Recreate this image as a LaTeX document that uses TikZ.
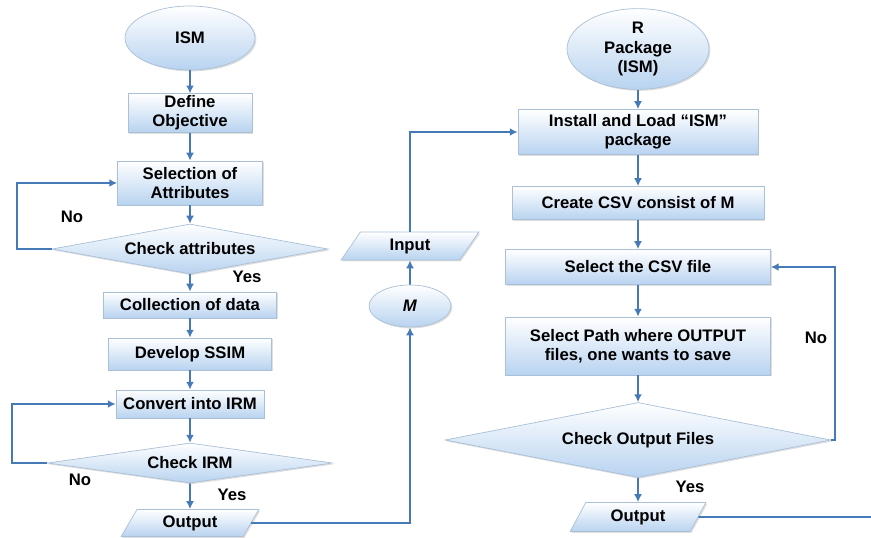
\documentclass[tikz,border=0pt]{standalone}
\usepackage{fontspec}
\setmainfont{Liberation Sans}
\usetikzlibrary{shapes.geometric,arrows.meta,shadows}
\definecolor{flowline}{RGB}{70,122,182}
\definecolor{boxfill}{RGB}{184,211,240}
\definecolor{boxedge}{RGB}{170,192,214}
\tikzset{
  base/.style={draw=boxedge, line width=0.4pt, top color=white, bottom color=boxfill,
    font=\bfseries\fontsize{9.5}{11}\selectfont, align=center, inner sep=1pt,
    drop shadow={shadow xshift=0.8pt, shadow yshift=-0.8pt, opacity=0.25}},
  proc/.style={base, rectangle},
  term/.style={base, ellipse},
  decide/.style={base, diamond, aspect=5},
  inout/.style={base, trapezium, trapezium left angle=65, trapezium right angle=115, trapezium stretches=true},
  flow/.style={draw=flowline, line width=1.1pt, -{Latex[length=4.5pt,width=4.5pt]}},
  tag/.style={font=\bfseries\fontsize{9.5}{11}\selectfont}
}
\begin{document}
\begin{tikzpicture}[x=0.02cm, y=-0.02cm]
            \useasboundingbox (0,0) rectangle (871,537);

            % ISM column
            \node[term, minimum width=2.6cm, minimum height=1.28cm] (ism) at (190,38) {ISM};
            \node[proc, minimum width=2.48cm, minimum height=0.76cm] (obj) at (190,113) {Define\\Objective};
            \node[proc, minimum width=2.9cm, minimum height=0.88cm] (attr) at (190,183) {Selection of\\Attributes};
            \node[decide, minimum width=5.52cm, minimum height=1.0cm] (chkattr) at (190,249) {Check attributes};
            \node[proc, minimum width=3.46cm, minimum height=0.52cm] (data) at (190,305) {Collection of data};
            \node[proc, minimum width=3.26cm, minimum height=0.64cm] (ssim) at (190,354) {Develop SSIM};
            \node[proc, minimum width=2.96cm, minimum height=0.56cm] (irm) at (190,404) {Convert into IRM};
            \node[decide, minimum width=5.7cm, minimum height=0.8cm] (chkirm) at (190,463) {Check IRM};
            \node[inout, minimum width=2.76cm, minimum height=0.54cm] (outA) at (190,523) {Output};

            \node[tag] (noA) at (72,217) {No};
            \node[tag] (yesA) at (247,277) {Yes};
            \node[tag] (noB) at (80,480) {No};
            \node[tag] (yesB) at (232,495) {Yes};

            \draw[flow] (ism) -- (obj);
            \draw[flow] (obj) -- (attr);
            \draw[flow] (attr) -- (chkattr);
            \draw[flow] (chkattr) -- (data);
            \draw[flow] (data) -- (ssim);
            \draw[flow] (ssim) -- (irm);
            \draw[flow] (irm) -- (chkirm);
            \draw[flow] (chkirm) -- (outA);
            \coordinate (loopA) at (17,249);
            \draw[flow] (chkattr.west) -- (loopA) |- (attr.west);
            \coordinate (loopB) at (12,463);
            \draw[flow] (chkirm.west) -- (loopB) |- (irm.west);

            % middle
            \node[term, minimum width=1.64cm, minimum height=0.84cm] (m) at (410,306) {\textit{M}};
            \node[inout, minimum width=2.76cm, minimum height=0.56cm] (inp) at (410,246) {Input};

            \draw[flow] (outA.east) -| (m.south);
            \draw[flow] (m) -- (inp);

            % R package column
            \node[term, minimum width=2.84cm, minimum height=1.36cm] (rpkg) at (638,49) {R\\Package\\(ISM)};
            \node[proc, minimum width=4.8cm, minimum height=0.9cm] (load) at (638,132) {Install and Load “ISM”\\package};
            \node[proc, minimum width=5.04cm, minimum height=0.66cm] (csv) at (638,203) {Create CSV consist of M};
            \node[proc, minimum width=5.3cm, minimum height=0.7cm] (pick) at (638,267) {Select the CSV file};
            \node[proc, minimum width=5.3cm, minimum height=1.16cm] (path) at (638,346) {Select Path where OUTPUT\\files, one wants to save};
            \node[decide, minimum width=7.72cm, minimum height=1.5cm] (chkout) at (638,440) {Check Output Files};
            \node[inout, minimum width=2.72cm, minimum height=0.58cm] (outB) at (638,517) {Output};

            \node[tag] (noC) at (816,338) {No};
            \node[tag] (yesC) at (690,487) {Yes};

            \draw[flow] (inp.north) |- (load.west);
            \draw[flow] (rpkg) -- (load);
            \draw[flow] (load) -- (csv);
            \draw[flow] (csv) -- (pick);
            \draw[flow] (pick) -- (path);
            \draw[flow] (path) -- (chkout);
            \draw[flow] (chkout) -- (outB);
            \coordinate (loopC) at (835,440);
            \draw[flow] (chkout.east) -- (loopC) |- (pick.east);
            \coordinate (edge) at (871,517);
            \draw[draw=flowline, line width=1.1pt] (outB.east) -- (edge);
\end{tikzpicture}
\end{document}
